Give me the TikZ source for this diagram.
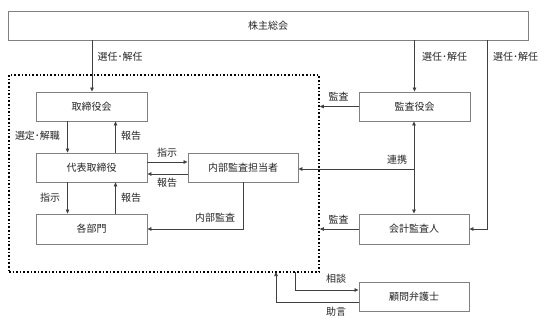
\documentclass[tikz,border=0pt]{standalone}
\usepackage{fontspec}
\setmainfont{Noto Sans CJK JP}
\usetikzlibrary{arrows.meta,calc}
\definecolor{boxline}{HTML}{808080}
\definecolor{conn}{HTML}{404040}
\tikzset{
  box/.style={draw=boxline,line width=0.9pt,fill=white,minimum width=110pt,minimum height=29pt,inner sep=0pt,font=\fontsize{10}{12}\selectfont,text=black!85},
  lbl/.style={inner sep=0pt,font=\fontsize{10}{12}\selectfont,text=black!85},
  conline/.style={draw=conn,line width=0.7pt},
  arr/.style={conline,-{Triangle[length=4pt,width=3.5pt]}},
  darr/.style={conline,{Triangle[length=4pt,width=3.5pt]}-{Triangle[length=4pt,width=3.5pt]}},
  frame/.style={draw=black,line width=1.6pt,dotted,inner sep=0pt}
}
\begin{document}
\begin{tikzpicture}[x=1pt,y=-1pt]
\useasboundingbox[fill=white] (0,0) rectangle (549,326);
% dotted frame
\node[frame,minimum width=310pt,minimum height=197pt] (fr) at (164,173.5) {};
% boxes
\node[box,minimum width=520pt] (top) at (268,25.5) {株主総会};
\node[box,minimum width=111pt] (tbk) at (91.5,106.5) {取締役会};
\node[box,minimum width=111pt] (rep) at (91.5,167.5) {代表取締役};
\node[box,minimum width=111pt,minimum height=30pt] (dept) at (91.5,229) {各部門};
\node[box] (ia) at (243,167.5) {内部監査担当者};
\node[box,minimum width=111pt] (ks) at (414.5,106.5) {監査役会};
\node[box,minimum height=30pt] (acc) at (414,229) {会計監査人};
\node[box] (law) at (414,296.5) {顧問弁護士};
% coordinates
\coordinate (rl) at (487,40);
\coordinate (c1) at (295,272);
\coordinate (c2) at (276,272);
\coordinate (ta) at ($(tbk.north)+(0.5,0)$);
% top arrows
\draw[arr] (ta |- top.south) -- (ta);
\draw[arr] (ks.north |- top.south) -- (ks.north);
\draw[arr] (rl) |- (acc.east);
% board / representative
\draw[arr] ($(tbk.south west)+(32,0)$) -- ($(rep.north west)+(32,0)$);
\draw[arr] ($(rep.north west)+(80,0)$) -- ($(tbk.south west)+(80,0)$);
\draw[arr] ($(rep.south west)+(32,0)$) -- ($(dept.north west)+(32,0)$);
\draw[arr] ($(dept.north west)+(80,0)$) -- ($(rep.south west)+(80,0)$);
% rep <-> internal audit
\draw[arr] ([yshift=5.5pt]rep.east) -- ([yshift=5.5pt]ia.west);
\draw[arr] ([yshift=-6.5pt]ia.west) -- ([yshift=-6.5pt]rep.east);
\draw[arr] (ia.south) |- (dept.east);
% audit
\draw[arr] (ks.west) -- (ks.west -| fr.east);
\draw[arr] (acc.west) -- (acc.west -| fr.east);
\draw[darr] ($(ks.south)+(-0.5,0)$) -- (acc.north);
\draw[arr] (acc.north |- 0,169) -- (ia.east |- 0,169);
% lawyer
\draw[arr] (c1) |- ([yshift=6.5pt]law.west);
\draw[arr] ([yshift=-5.5pt]law.west) -| (c2);
% labels
\node[lbl] (l1) at (120,57) {選任･解任};
\node[lbl] (l2) at (444.5,57) {選任･解任};
\node[lbl] (l3) at (515.5,57) {選任･解任};
\node[lbl] (l4) at (37.5,136) {選定･解職};
\node[lbl] (l5) at (131,136) {報告};
\node[lbl] (l6) at (167,153) {指示};
\node[lbl] (l7) at (167,183) {報告};
\node[lbl] (l8) at (50,198) {指示};
\node[lbl] (l9) at (131,198) {報告};
\node[lbl] (l10) at (215,218) {内部監査};
\node[lbl] (l11) at (338.5,97) {監査};
\node[lbl] (l12) at (397,160) {連携};
\node[lbl] (l13) at (338.5,220) {監査};
\node[lbl] (l14) at (336,279) {相談};
\node[lbl] (l15) at (336,312) {助言};
\end{tikzpicture}
\end{document}
